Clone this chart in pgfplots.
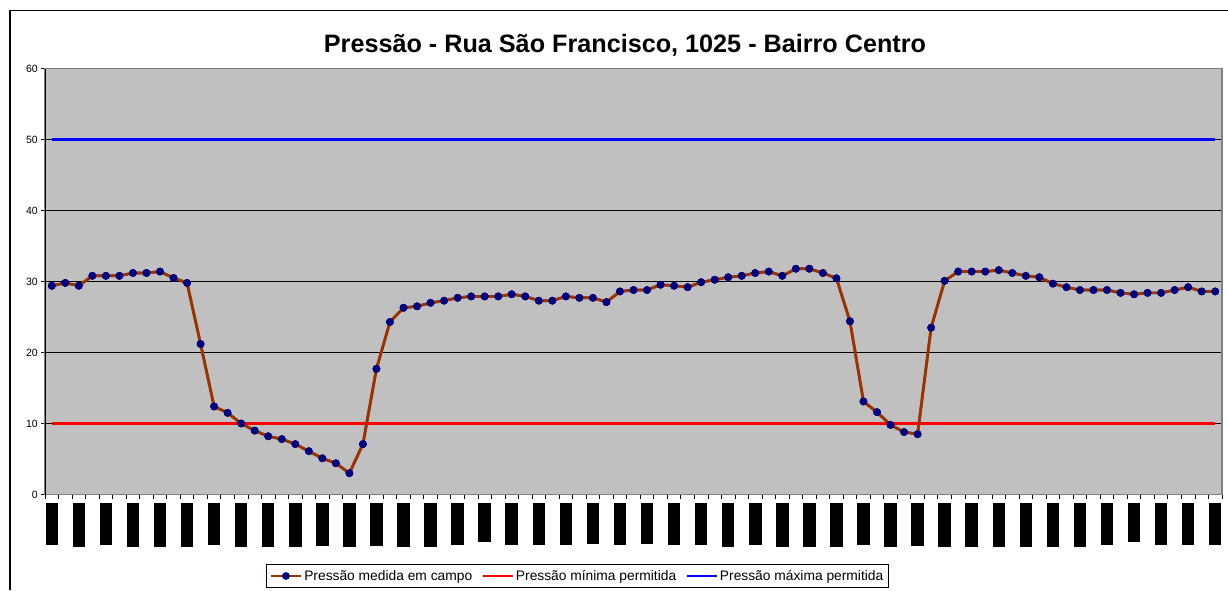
\documentclass[border=0pt]{standalone}
\usepackage{pgfplots}
\usepackage{pgfplotstable}
\pgfplotsset{compat=1.18}
\usepackage{fontspec}
\setmainfont{Liberation Sans}
\definecolor{plotgray}{HTML}{C0C0C0}
\definecolor{dbrown}{HTML}{993300}
\definecolor{dnavy}{HTML}{000080}
\definecolor{bordergray}{HTML}{808080}
\newcommand{\bL}{\rule{12.5pt}{43.7pt}}
\newcommand{\bM}{\rule{12.5pt}{42.7pt}}
\newcommand{\bS}{\rule{12.5pt}{41.7pt}}
\newcommand{\bT}{\rule{12.5pt}{40.7pt}}
\newcommand{\bU}{\rule{12.5pt}{40.2pt}}
\newcommand{\bV}{\rule{12.5pt}{38.7pt}}
\pgfplotstableread{
x y
0 29.4
1 29.8
2 29.4
3 30.8
4 30.8
5 30.8
6 31.2
7 31.2
8 31.4
9 30.5
10 29.8
11 21.2
12 12.4
13 11.5
14 10.0
15 9.0
16 8.2
17 7.8
18 7.1
19 6.1
20 5.1
21 4.4
22 3.0
23 7.1
24 17.7
25 24.3
26 26.3
27 26.5
28 27.0
29 27.3
30 27.7
31 27.9
32 27.9
33 27.9
34 28.2
35 27.9
36 27.3
37 27.3
38 27.9
39 27.7
40 27.7
41 27.1
42 28.6
43 28.8
44 28.8
45 29.55
46 29.4
47 29.2
48 29.9
49 30.25
50 30.6
51 30.8
52 31.2
53 31.4
54 30.8
55 31.8
56 31.8
57 31.2
58 30.45
59 24.4
60 13.1
61 11.6
62 9.8
63 8.8
64 8.5
65 23.5
66 30.1
67 31.4
68 31.4
69 31.4
70 31.6
71 31.2
72 30.8
73 30.6
74 29.7
75 29.2
76 28.8
77 28.8
78 28.8
79 28.4
80 28.2
81 28.4
82 28.4
83 28.8
84 29.2
85 28.6
86 28.6
}\meas
\begin{document}
\begin{tikzpicture}[x=1pt,y=1pt]
\useasboundingbox (0,0) rectangle (1228,590);
\draw[black, line width=1.3pt] (10,579.5) -- (1228,579.5);
\draw[black, line width=1.3pt] (10,0) -- (10,579.5);
\node[font=\fontsize{25.2}{28}\selectfont\bfseries, anchor=base] at (625,537) {Pressão - Rua São Francisco, 1025 - Bairro Centro};
\begin{axis}[
  at={(45pt,95.5pt)}, anchor=south west,
  scale only axis, width=1177pt, height=426pt,
  xmin=-0.5, xmax=86.5, ymin=0, ymax=60,
  axis background/.style={fill=plotgray},
  axis line style={draw=bordergray, line width=1.4pt},
  ytick={0,10,...,60},
  xtick={-0.5,0.5,...,86.5},
  xticklabels={},
  xtick pos=bottom, ytick pos=left,
  tick align=outside,
  major tick length=4pt,
  tick style={black, line width=0.8pt},
  ymajorgrids, grid style={black, line width=0.9pt},
  /pgf/number format/assume math mode=true,
  yticklabel style={font=\fontsize{10.5}{12}\selectfont, inner sep=1pt, xshift=-2pt},
  extra x ticks={0,2,...,86},
  extra x tick labels={\bS,\bL,\bS,\bL,\bL,\bL,\bS,\bL,\bL,\bL,\bM,\bL,\bM,\bL,\bL,\bS,\bV,\bS,\bS,\bS,\bT,\bS,\bU,\bS,\bS,\bL,\bS,\bL,\bL,\bL,\bS,\bL,\bM,\bL,\bL,\bL,\bL,\bL,\bL,\bS,\bV,\bS,\bS,\bS},
  extra x tick style={major tick length=0pt, xmajorgrids=false, tick label style={anchor=north, inner sep=0pt, yshift=-8.7pt}},
  legend columns=3,
  legend style={at={(0.4524,-0.1913)}, anchor=center, draw=black, line width=0.8pt, fill=white,
    font=\fontsize{13.8}{15}\selectfont, inner xsep=3pt, inner ysep=4pt,
    /tikz/every even column/.append style={column sep=7pt}},
  legend image code/.code={\draw[mark repeat=2,mark phase=2] plot coordinates {(0pt,0pt) (15pt,0pt) (30pt,0pt)};},
]
\addplot[dbrown, line width=2.7pt, mark=*, mark size=3.7pt, mark options={solid, fill=dnavy, draw=dnavy, line width=0.3pt}] table[x=x,y=y] {\meas};
\addlegendentry{Pressão medida em campo}
\addplot[red, line width=2.7pt] coordinates {(0,10) (86,10)};
\addlegendentry{Pressão mínima permitida}
\addplot[blue, line width=2.7pt] coordinates {(0,50) (86,50)};
\addlegendentry{Pressão máxima permitida}
\addplot[forget plot, dbrown, line width=2.7pt, mark=*, mark size=3.7pt, mark options={solid, fill=dnavy, draw=dnavy, line width=0.3pt}] table[x=x,y=y] {\meas};
\draw[black, line width=1pt] (rel axis cs:0,0) -- (rel axis cs:0,1);
\end{axis}
\end{tikzpicture}
\end{document}
